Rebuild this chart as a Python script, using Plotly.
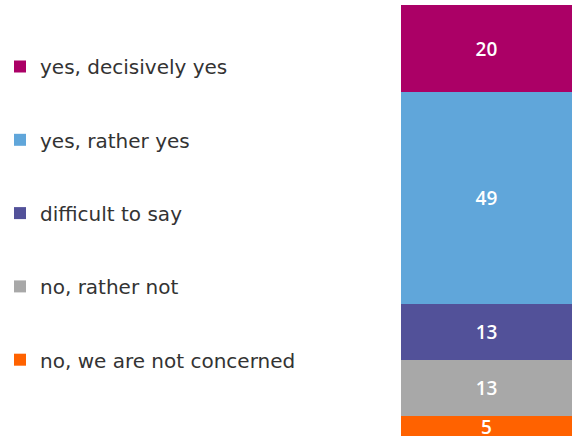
import plotly.graph_objects as go

categories = ["no, we are not concerned", "no, rather not", "difficult to say",
              "yes, rather yes", "yes, decisively yes"]
values = [5, 13, 13, 49, 20]
colors = ["#FF6200", "#A8A8A8", "#525199", "#60A6DA", "#AB0066"]

fig = go.Figure()
n = len(categories)
for i, (cat, v, c) in enumerate(zip(categories, values, colors)):
    fig.add_trace(go.Bar(
        x=["all"], y=[v], name=cat, marker=dict(color=c, line=dict(width=0)),
        text=[str(v)], textposition="inside", insidetextanchor="middle",
        textangle=0,
        textfont=dict(color="white", size=19, family="Open Sans", weight=600),
        legendgroup=f"g{i}", legendrank=n - i, width=1, hoverinfo="skip",
    ))

fig.update_layout(
    barmode="stack",
    width=572, height=436,
    margin=dict(l=0, r=0, t=0, b=0),
    paper_bgcolor="white", plot_bgcolor="white",
    uniformtext=dict(minsize=19, mode="show"),
    xaxis=dict(domain=[401/572, 1], range=[-0.5, 0.5], visible=False),
    yaxis=dict(range=[0.35, 101.27], visible=False),
    showlegend=True,
    legend=dict(
        x=0, y=1 - 47/436, xanchor="left", yanchor="top",
        traceorder="grouped", tracegroupgap=44.3,
        font=dict(family="DejaVu Sans", size=20, color="#333333"),
        bgcolor="rgba(0,0,0,0)",
    ),
    font=dict(family="Open Sans"),
)
fig.write_html("out.html")
